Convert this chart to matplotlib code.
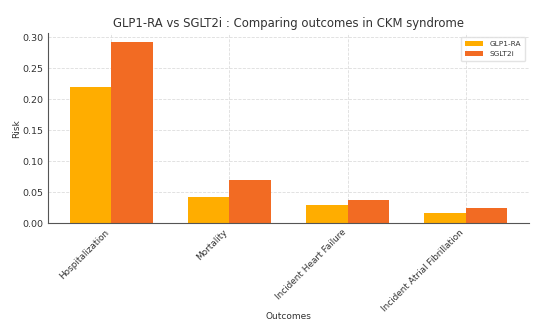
import numpy as np
import matplotlib
matplotlib.use("Agg")
import matplotlib.pyplot as plt

outcomes = ["Hospitalization", "Mortality", "Incident Heart Failure", "Incident Atrial Fibrillation"]
glp1_risk = [0.22, 0.043, 0.029, 0.017]
sglt2_risk = [0.292, 0.070, 0.038, 0.025]

GLP1_COLOUR = "#ffad00"
SGLT2_COLOUR = "#f26b23"

fig = plt.figure(figsize=(5.51, 3.33), dpi=100)
ax = fig.add_axes([0.087, 0.329, 0.873, 0.572])

x = np.arange(len(outcomes))
width = 0.35
ax.bar(x - width / 2, glp1_risk, width, color=GLP1_COLOUR, label="GLP1-RA")
ax.bar(x + width / 2, sglt2_risk, width, color=SGLT2_COLOUR, label="SGLT2i")

ax.set_title("GLP1-RA vs SGLT2i : Comparing outcomes in CKM syndrome", fontsize=8.4, color="#333333", pad=4)
ax.set_xlabel("Outcomes", fontsize=6.5, color="#333333")
ax.set_ylabel("Risk", fontsize=6.5, color="#333333")
ax.xaxis.set_label_coords(0.5, -0.465)
ax.yaxis.set_label_coords(-0.056, 0.5)
ax.set_xticks(x)
ax.set_xticklabels(outcomes, rotation=45, ha="right", fontsize=6.4, color="#333333")
ax.set_yticks([0.0, 0.05, 0.10, 0.15, 0.20, 0.25, 0.30])
ax.set_yticklabels(["0.00", "0.05", "0.10", "0.15", "0.20", "0.25", "0.30"], fontsize=6.8, color="#333333")
ax.tick_params(length=0, pad=3)

ax.grid(True, linestyle="--", color="#dddddd", linewidth=0.6)
ax.set_axisbelow(True)
for side in ["top", "right"]:
	ax.spines[side].set_visible(False)
for side in ["left", "bottom"]:
	ax.spines[side].set_color("#555555")
	ax.spines[side].set_linewidth(0.8)

leg = ax.legend(loc="upper right", fontsize=5.3, frameon=True, handlelength=2.5, borderpad=0.6)
leg.get_frame().set_edgecolor("#dddddd")
for t in leg.get_texts():
	t.set_color("#333333")

fig.savefig("out.png", dpi=100)
